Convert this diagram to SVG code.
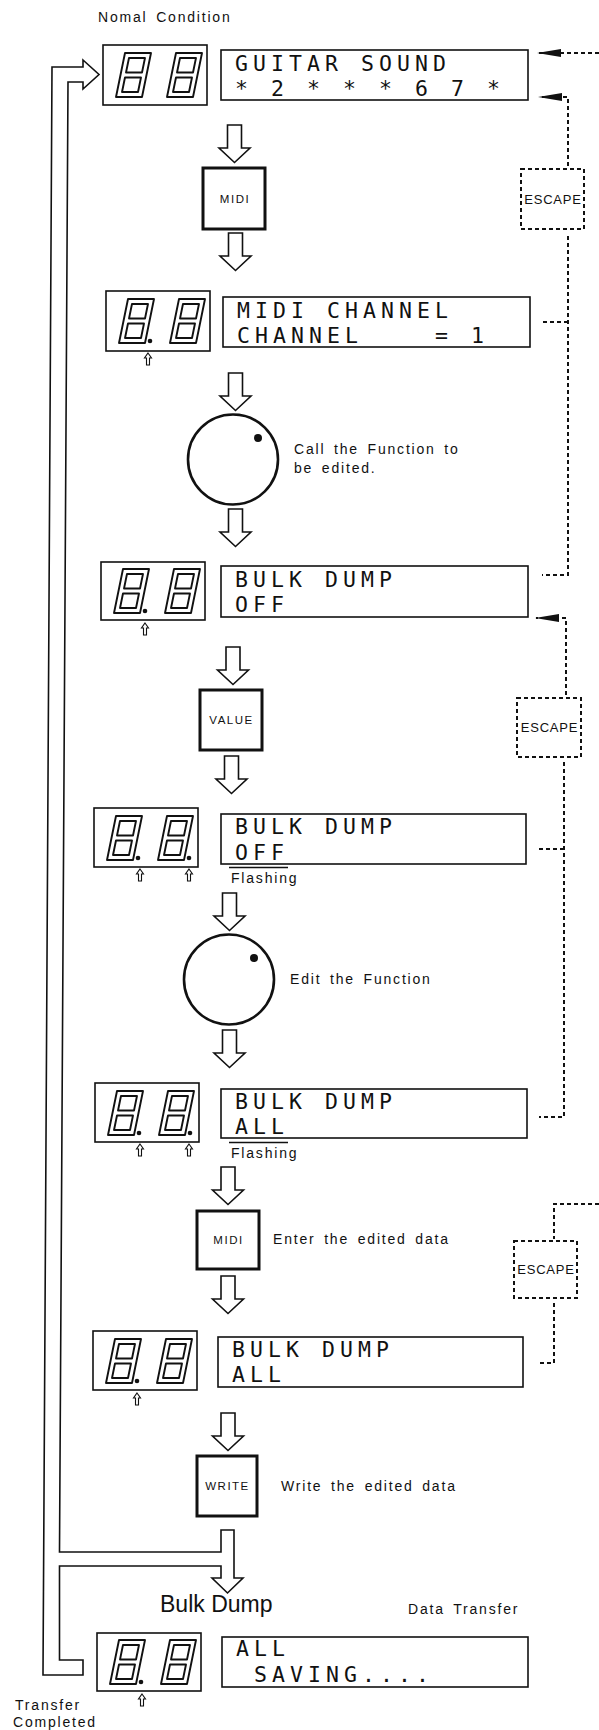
<svg xmlns="http://www.w3.org/2000/svg" xmlns:xlink="http://www.w3.org/1999/xlink" width="599" height="1730" viewBox="0 0 599 1730">
<style>
.lcd{font-family:"DejaVu Sans Mono","Liberation Mono",monospace;font-size:21.5px;letter-spacing:5.05px;fill:#111;white-space:pre}
.lbl{font-family:"Liberation Sans",Arial,sans-serif;font-size:14px;letter-spacing:1.8px;word-spacing:3px;fill:#111}
.big{font-family:"Liberation Sans",Arial,sans-serif;font-size:23px;fill:#111}
.btn{font-family:"Liberation Sans",Arial,sans-serif;font-size:11.5px;letter-spacing:1.5px;fill:#111;text-anchor:middle}
.esc{font-family:"Liberation Sans",Arial,sans-serif;font-size:13px;letter-spacing:0.8px;fill:#111;text-anchor:middle}
.box{fill:none;stroke:#111;stroke-width:1.6}
.key{fill:#fff;stroke:#111;stroke-width:3}
.escbox{fill:none;stroke:#111;stroke-width:2;stroke-dasharray:4 3}
.dash{fill:none;stroke:#111;stroke-width:2;stroke-dasharray:4 3}
.seg{fill:none;stroke:#111;stroke-width:1.9;stroke-linejoin:round}
.arr{fill:#fff;stroke:#111;stroke-width:1.6;stroke-linejoin:miter}
.sarr{fill:#fff;stroke:#111;stroke-width:1.1}
.knob{fill:#fff;stroke:#111;stroke-width:2.6}
.ln{fill:none;stroke:#111;stroke-width:1.6}
</style>
<defs>
<g id="d8" class="seg">
<path d="M0,44 L26,44 L35,0 L9,0 Z"/>
<path d="M12.98,5 L28.98,5 L26.01,19.5 L10.01,19.5 Z"/>
<path d="M8.99,24.5 L24.99,24.5 L22.02,39 L6.02,39 Z"/>
</g>
<path id="darr" class="arr" d="M-7,0 H7 V23 H15.5 L0,37.5 L-15.5,23 H-7 Z"/>
<path id="uarr" class="sarr" d="M0,0 L3.5,5 H1.5 V12 H-1.5 V5 H-3.5 Z"/>
<marker id="ah" markerUnits="userSpaceOnUse" markerWidth="24" markerHeight="10" viewBox="0 0 24 10" refX="23" refY="5" orient="auto">
<path d="M0,1 L24,5 L0,9 Z" fill="#111"/>
</marker>
</defs>

<text class="lbl" x="98" y="22">Nomal Condition</text>

<g id="connectors">
<path class="ln" d="M83,60 L99,74.5 L83,89 V82 H68 L59.5,1552 H221 V1530 H234 V1578 H243 L227.5,1593 L212,1578 H221 V1566 H59.5 V1660 H83 V1675 H43 L52,67 H83 Z"/>
<use href="#darr" x="234.5" y="125"/>
<use href="#darr" x="235.5" y="233"/>
<use href="#darr" x="235.5" y="373"/>
<use href="#darr" x="235.5" y="509"/>
<use href="#darr" x="233" y="647"/>
<use href="#darr" x="231.5" y="756"/>
<use href="#darr" x="229.5" y="893"/>
<use href="#darr" x="229.5" y="1030"/>
<use href="#darr" x="228" y="1167"/>
<use href="#darr" x="228" y="1276"/>
<use href="#darr" x="228" y="1413"/>
<path class="dash" d="M599,53 H538" marker-end="url(#ah)"/>
<path class="dash" d="M568,166 V97 H539" marker-end="url(#ah)"/>
<path class="dash" d="M568,236 V575 H542"/>
<path class="dash" d="M543,322 H567"/>
<path class="dash" d="M566,695 V618 H536" marker-end="url(#ah)"/>
<path class="dash" d="M564,762 V1117 H539"/>
<path class="dash" d="M539,849 H563"/>
<path class="dash" d="M599,1204 H554 V1239"/>
<path class="dash" d="M554,1303 V1363 H537"/>
</g>

<g id="disp1">
<rect class="box" x="103" y="45" width="104" height="60"/>
<use href="#d8" x="116" y="53"/><use href="#d8" x="167" y="53"/>
</g>
<g id="lcd1">
<rect class="box" x="221" y="50" width="307" height="50"/>
<text class="lcd" x="235" y="70.5" xml:space="preserve">GUITAR SOUND</text>
<text class="lcd" x="235" y="96" xml:space="preserve">* 2 * * * 6 7 *</text>
</g>
<g id="esc1">
<rect class="escbox" x="521" y="169" width="63" height="60"/>
<text class="esc" x="553" y="203.5">ESCAPE</text>
</g>
<g id="key-midi1">
<rect class="key" x="203" y="168" width="62" height="61"/>
<text class="btn" x="235" y="203">MIDI</text>
</g>

<g id="disp2">
<rect class="box" x="106" y="291" width="104" height="60"/>
<use href="#d8" x="119" y="299"/><use href="#d8" x="170" y="299"/>
<circle cx="150" cy="341" r="2.3" fill="#111"/>
<use href="#uarr" x="148" y="353"/>
</g>
<g id="lcd2">
<rect class="box" x="223" y="297" width="307" height="50"/>
<text class="lcd" x="237" y="317.5" xml:space="preserve">MIDI CHANNEL</text>
<text class="lcd" x="237" y="343" xml:space="preserve">CHANNEL    = 1</text>
</g>

<g id="knob1">
<circle class="knob" cx="233" cy="459.5" r="45"/>
<circle cx="258" cy="438" r="4" fill="#111"/>
<text class="lbl" x="294" y="454">Call the Function to</text>
<text class="lbl" x="294" y="473">be edited.</text>
</g>

<g id="disp3">
<rect class="box" x="101" y="562" width="104" height="58"/>
<use href="#d8" x="114" y="569"/><use href="#d8" x="165" y="569"/>
<circle cx="145" cy="611" r="2.3" fill="#111"/>
<use href="#uarr" x="145" y="623"/>
</g>
<g id="lcd3">
<rect class="box" x="221" y="566" width="307" height="51"/>
<text class="lcd" x="235" y="586.5" xml:space="preserve">BULK DUMP</text>
<text class="lcd" x="235" y="612" xml:space="preserve">OFF</text>
</g>
<g id="esc2">
<rect class="escbox" x="517" y="698" width="64" height="59"/>
<text class="esc" x="549.5" y="732">ESCAPE</text>
</g>
<g id="key-value">
<rect class="key" x="200" y="690" width="62" height="60"/>
<text class="btn" x="231.5" y="724">VALUE</text>
</g>

<g id="disp4">
<rect class="box" x="94" y="808" width="104" height="59"/>
<use href="#d8" x="107" y="816"/><use href="#d8" x="158" y="816"/>
<circle cx="138" cy="858" r="2.3" fill="#111"/>
<circle cx="189" cy="858" r="2.3" fill="#111"/>
<use href="#uarr" x="140" y="869"/><use href="#uarr" x="189" y="869"/>
</g>
<g id="lcd4">
<rect class="box" x="221" y="814" width="305" height="50"/>
<text class="lcd" x="235" y="834" xml:space="preserve">BULK DUMP</text>
<text class="lcd" x="235" y="859.5" xml:space="preserve">OFF</text>
<line class="ln" x1="229" y1="867.5" x2="288" y2="867.5"/>
<text class="lbl" x="231" y="883">Flashing</text>
</g>

<g id="knob2">
<circle class="knob" cx="229" cy="979.5" r="45"/>
<circle cx="254" cy="958" r="4" fill="#111"/>
<text class="lbl" x="290" y="984">Edit the Function</text>
</g>

<g id="disp5">
<rect class="box" x="95" y="1083" width="104" height="59"/>
<use href="#d8" x="108" y="1091"/><use href="#d8" x="159" y="1091"/>
<circle cx="139" cy="1133" r="2.3" fill="#111"/>
<circle cx="190" cy="1133" r="2.3" fill="#111"/>
<use href="#uarr" x="140" y="1144"/><use href="#uarr" x="189" y="1144"/>
</g>
<g id="lcd5">
<rect class="box" x="221" y="1089" width="306" height="49"/>
<text class="lcd" x="235" y="1108.5" xml:space="preserve">BULK DUMP</text>
<text class="lcd" x="235" y="1134" xml:space="preserve">ALL</text>
<line class="ln" x1="229" y1="1142.5" x2="288" y2="1142.5"/>
<text class="lbl" x="231" y="1158">Flashing</text>
</g>

<g id="key-midi2">
<rect class="key" x="197" y="1211" width="62" height="58"/>
<text class="btn" x="228.5" y="1244">MIDI</text>
<text class="lbl" x="273" y="1244">Enter the edited data</text>
</g>
<g id="esc3">
<rect class="escbox" x="514" y="1241" width="63" height="57"/>
<text class="esc" x="546" y="1274">ESCAPE</text>
</g>

<g id="disp6">
<rect class="box" x="93" y="1331" width="104" height="59"/>
<use href="#d8" x="106" y="1339"/><use href="#d8" x="157" y="1339"/>
<circle cx="137" cy="1381" r="2.3" fill="#111"/>
<use href="#uarr" x="137" y="1393"/>
</g>
<g id="lcd6">
<rect class="box" x="218" y="1337" width="305" height="50"/>
<text class="lcd" x="232" y="1356.5" xml:space="preserve">BULK DUMP</text>
<text class="lcd" x="232" y="1382" xml:space="preserve">ALL</text>
</g>

<g id="key-write">
<rect class="key" x="197" y="1456" width="60" height="60"/>
<text class="btn" x="227.5" y="1490">WRITE</text>
<text class="lbl" x="281" y="1491">Write the edited data</text>
</g>

<text class="big" x="160" y="1612">Bulk Dump</text>
<text class="lbl" x="408" y="1614">Data Transfer</text>

<g id="disp7">
<rect class="box" x="97" y="1633" width="104" height="58"/>
<use href="#d8" x="110" y="1640"/><use href="#d8" x="161" y="1640"/>
<circle cx="141" cy="1682" r="2.3" fill="#111"/>
<use href="#uarr" x="142" y="1694"/>
</g>
<g id="lcd7">
<rect class="box" x="222" y="1637" width="306" height="50"/>
<text class="lcd" x="236" y="1656" xml:space="preserve">ALL</text>
<text class="lcd" x="236" y="1682" xml:space="preserve"> SAVING....</text>
</g>

<text class="lbl" x="15" y="1710">Transfer</text>
<text class="lbl" x="13" y="1727">Completed</text>
</svg>
